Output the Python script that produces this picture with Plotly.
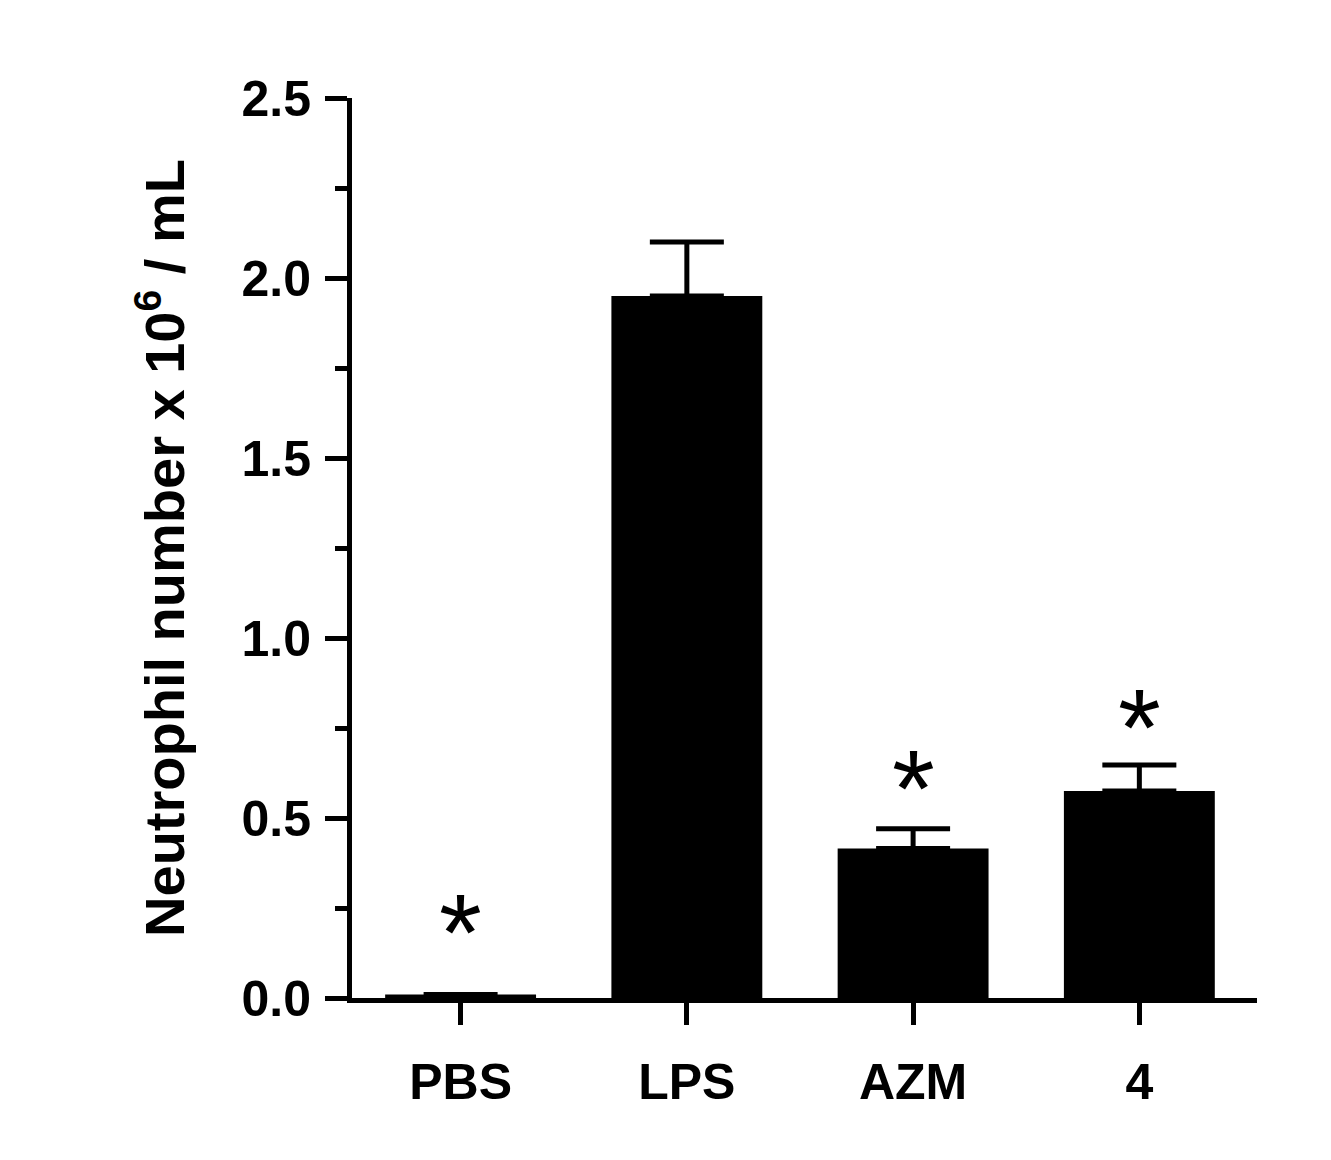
import plotly.graph_objects as go

categories = ["PBS", "LPS", "AZM", "4"]
values = [0.01, 1.95, 0.415, 0.575]
errors = [0.0, 0.15, 0.055, 0.072]
stars = ["*", "", "*", "*"]
star_y = [0.24, None, 0.64, 0.81]

fig = go.Figure()
fig.add_trace(go.Bar(
    x=list(range(len(categories))), y=values, width=0.667,
    marker=dict(color="black", line=dict(width=0)),
    error_y=dict(type="data", array=errors, arrayminus=[0]*4, symmetric=False,
                 color="black", thickness=5, width=37),
))
for i, (s, yy) in enumerate(zip(stars, star_y)):
    if s:
        fig.add_annotation(x=i, y=yy, text=s, showarrow=False,
                           font=dict(size=110, family="Liberation Sans, Arial", color="black"),
                           yanchor="middle", yshift=-20)

font = dict(family="Liberation Sans, Arial", size=50, color="black", weight="bold")
fig.update_layout(
    width=1331, height=1160, plot_bgcolor="white", paper_bgcolor="white",
    margin=dict(l=344, r=82, t=90, b=170), showlegend=False,
    xaxis=dict(range=[-0.48, 3.52], tickmode="array", tickvals=list(range(4)),
               ticktext=categories, ticks="outside", ticklen=22, tickwidth=5,
               tickcolor="black", showline=True, linewidth=5, linecolor="black",
               showgrid=False, zeroline=False, tickfont=font, ticklabelstandoff=14),
    yaxis=dict(range=[0, 2.5], tickmode="array", tickvals=[0, 0.5, 1.0, 1.5, 2.0, 2.5],
               ticktext=["0.0", "0.5", "1.0", "1.5", "2.0", "2.5"],
               ticks="outside", ticklen=22, tickwidth=5, tickcolor="black",
               showline=True, linewidth=5, linecolor="black", showgrid=False,
               zeroline=False, tickfont=font, ticklabelstandoff=4,
               minor=dict(tickvals=[0.25, 0.75, 1.25, 1.75, 2.25], ticks="outside",
                          ticklen=12, tickwidth=5, tickcolor="black"),
               title=dict(text="Neutrophil number x 10<sup>6</sup> / mL",
                          font=dict(family="Liberation Sans, Arial", size=56,
                                    color="black", weight="bold"), standoff=40)),
)
fig.write_html("out.html")
